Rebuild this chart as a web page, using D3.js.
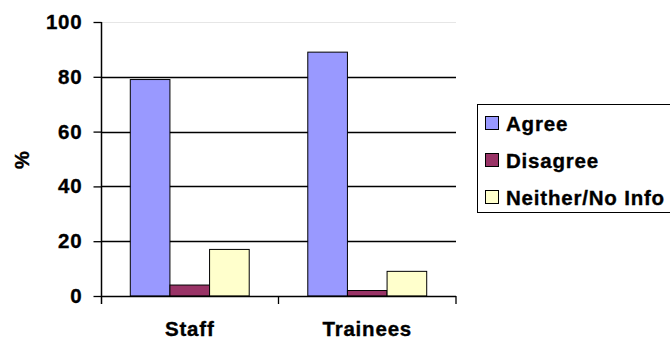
<!DOCTYPE html>
<html><head><meta charset="utf-8">
<script src="https://cdn.jsdelivr.net/npm/d3@7"></script>
<style>
html,body{margin:0;padding:0;background:#fff;}
text{font-family:"Liberation Sans",Arial,sans-serif;font-weight:bold;fill:#000;stroke:#000;stroke-width:0.35px;}
</style></head>
<body><svg id="c" width="670" height="339"></svg>
<script>
const categories = ["Staff", "Trainees"];
const seriesNames = ["Agree", "Disagree", "Neither/No Info"];
const agree = [79, 89];
const disagree = [4, 2];
const neither = [17, 9];
const yTicks = [0, 20, 40, 60, 80, 100];
const colors = ["#9999FF", "#993366", "#FFFFCC"];
const seriesValues = [agree, disagree, neither];

(function () {
const svg = d3.select("#c");
const pL = 101, pR = 456, pT = 22, pB = 296;
const y = d3.scaleLinear().domain([0, 100]).range([pB, pT]);
const x0 = d3.scaleBand().domain(categories).range([pL, pR]).paddingInner(0.33).paddingOuter(0.165);
const x1 = d3.scaleBand().domain(seriesNames).range([0, x0.bandwidth()]);

// gridlines
svg.append("g").selectAll("line").data(yTicks.filter(d => d > 0)).join("line")
  .attr("x1", pL).attr("x2", pR)
  .attr("y1", d => Math.round(y(d)) + 0.5).attr("y2", d => Math.round(y(d)) + 0.5)
  .attr("stroke", d => d === 100 ? "#e6e6e6" : "#000")
  .attr("stroke-width", d => d === 100 ? 1 : 1.3);

// bars
categories.forEach((c, ci) => {
  seriesNames.forEach((s, si) => {
    const v = seriesValues[si][ci];
    svg.append("rect")
      .attr("x", x0(c) + x1(s))
      .attr("y", y(v))
      .attr("width", x1.bandwidth())
      .attr("height", y(0) - y(v))
      .attr("fill", colors[si])
      .attr("stroke", "#000").attr("stroke-width", 1);
  });
});

// y axis
const yAxis = d3.axisLeft(y).tickValues(yTicks).tickSize(8).tickPadding(11);
const gy = svg.append("g").attr("transform", `translate(${pL + 0.5},0)`).call(yAxis);
gy.select(".domain").attr("d", `M0,${pT}V${pB + 8}`).attr("stroke", "#000").attr("stroke-width", 1.5);
gy.selectAll(".tick line").attr("stroke", "#000").attr("stroke-width", 1.3);
gy.selectAll(".tick text").style("font-size", "20.5px").style("letter-spacing", "0.8px")
  .attr("font-family", null).attr("font-size", null).attr("fill", "#000");
gy.attr("font-family", null).attr("font-size", null);

// x axis
const bounds = [pL, (pL + pR) / 2, pR];
svg.append("line").attr("x1", pL).attr("x2", pR).attr("y1", pB + 0.5).attr("y2", pB + 0.5)
  .attr("stroke", "#000").attr("stroke-width", 1.5);
svg.append("g").selectAll("line").data(bounds.slice(1)).join("line")
  .attr("x1", d => d).attr("x2", d => d).attr("y1", pB).attr("y2", pB + 8)
  .attr("stroke", "#000").attr("stroke-width", 1.3);
svg.append("g").selectAll("text").data(categories).join("text")
  .attr("x", d => x0(d) + x0.bandwidth() / 2).attr("y", 336)
  .attr("text-anchor", "middle").style("font-size", "20.5px").style("letter-spacing", "0.8px")
  .text(d => d);

// y label
svg.append("text").attr("transform", "translate(29,160) rotate(-90)")
  .attr("text-anchor", "middle").style("font-size", "20px").text("%");

// legend
svg.append("rect").attr("x", 477.5).attr("y", 104.5).attr("width", 200).attr("height", 108)
  .attr("fill", "#fff").attr("stroke", "#000").attr("stroke-width", 1);
seriesNames.forEach((s, i) => {
  const yy = 116.5 + i * 37;
  svg.append("rect").attr("x", 485.5).attr("y", yy).attr("width", 13).attr("height", 13)
    .attr("fill", colors[i]).attr("stroke", "#000").attr("stroke-width", 1);
  svg.append("text").attr("x", 506).attr("y", yy + 14).style("font-size", "20.5px")
    .style("letter-spacing", "0.8px").text(s);
});
})();
</script></body></html>
